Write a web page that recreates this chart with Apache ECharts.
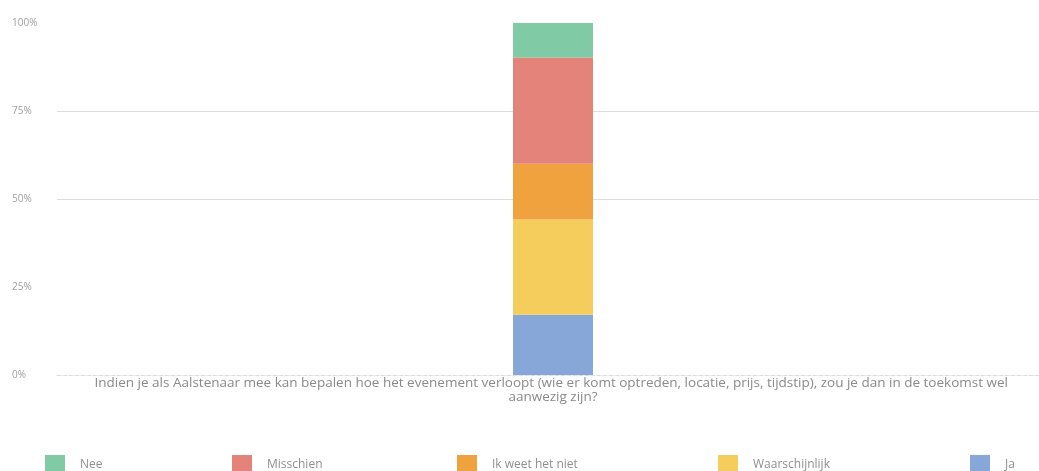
<!DOCTYPE html>
<html>
<head>
<meta charset="utf-8">
<script src="https://cdn.jsdelivr.net/npm/echarts@6/dist/echarts.min.js"></script>
<style>
html,body{margin:0;padding:0;background:#fff;overflow:hidden;width:1039px;height:471px;}
#chart{width:1049px;height:471px;}
</style>
</head>
<body>
<div id="chart"></div>
<script>
var categories = ['Indien je als Aalstenaar mee kan bepalen hoe het evenement verloopt (wie er komt optreden, locatie, prijs, tijdstip), zou je dan in de toekomst wel aanwezig zijn?'];
var seriesNames = ['Ja', 'Waarschijnlijk', 'Ik weet het niet', 'Misschien', 'Nee'];
var ja = [17.1];
var waarschijnlijk = [27.1];
var ikWeetHetNiet = [15.8];
var misschien = [30.2];
var nee = [9.8];
var yTicks = [0, 25, 50, 75, 100];
var legendOrder = ['Nee', 'Misschien', 'Ik weet het niet', 'Waarschijnlijk', 'Ja'];

var colors = {
  'Ja': '#87a7d8',
  'Waarschijnlijk': '#f5cd5c',
  'Ik weet het niet': '#f0a23f',
  'Misschien': '#e4837a',
  'Nee': '#80caa6'
};
var values = [ja, waarschijnlijk, ikWeetHetNiet, misschien, nee];
var legendLeft = [45, 232, 457, 718, 970];

var chart = echarts.init(document.getElementById('chart'));
var font = '"Open Sans", sans-serif';
var option = {
  animation: false,
  textStyle: {fontFamily: font},
  grid: {left: 57, right: 0, top: 23, bottom: 96},
  legend: legendOrder.map(function (name, i) {
    return {
      data: [name],
      left: legendLeft[i],
      top: 455,
      padding: 0,
      itemWidth: 20,
      itemHeight: 20,
      itemGap: 0,
      selectedMode: false,
      icon: 'rect',
      textStyle: {color: '#8f8f8f', fontSize: 12, fontFamily: font, padding: [0, 0, 0, 10]}
    };
  }),
  xAxis: {
    type: 'category',
    data: categories,
    axisTick: {show: false},
    axisLine: {show: true, lineStyle: {color: '#dddddd', type: 'dashed'}},
    axisLabel: {
      color: '#8a8a8a',
      fontSize: 13.5,
      fontFamily: font,
      margin: 1,
      lineHeight: 14,
      width: 935,
      overflow: 'break',
      align: 'center',
      interval: 0
    }
  },
  yAxis: {
    type: 'value',
    min: 0,
    max: 100,
    interval: 25,
    axisLine: {show: false},
    axisTick: {show: false},
    axisLabel: {
      color: '#a0a0a0',
      fontSize: 10,
      fontFamily: font,
      align: 'left',
      margin: 45,
      formatter: function (v) { return yTicks.indexOf(v) >= 0 ? v + '%' : ''; }
    },
    splitLine: {
      show: true,
      lineStyle: {color: ['rgba(0,0,0,0)', 'rgba(0,0,0,0)', '#dddddd', '#dddddd', 'rgba(0,0,0,0)'], width: 1}
    }
  },
  series: seriesNames.map(function (name, i) {
    return {
      name: name,
      type: 'bar',
      stack: 'total',
      barWidth: 80,
      data: values[i],
      itemStyle: {color: colors[name]}
    };
  })
};
chart.setOption(option);
</script>
</body>
</html>
